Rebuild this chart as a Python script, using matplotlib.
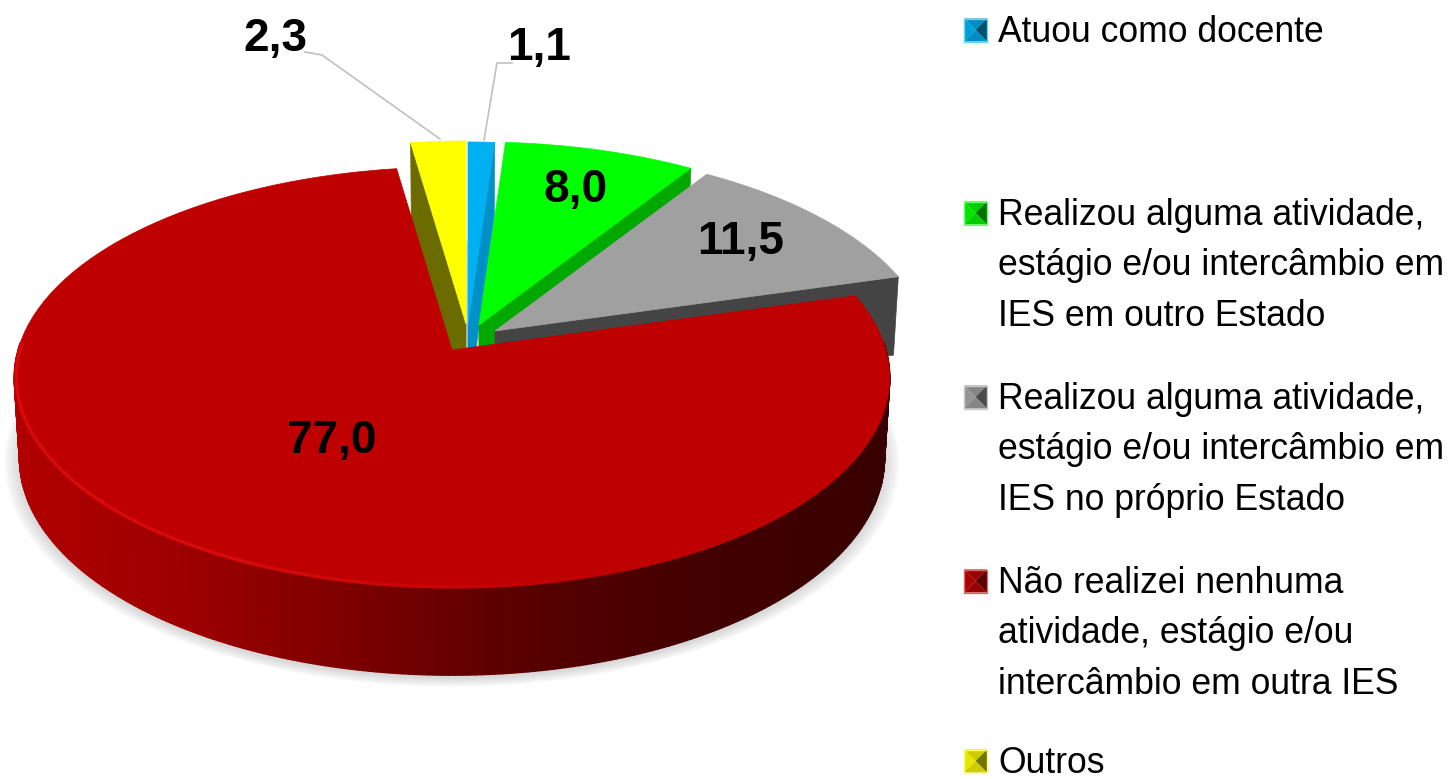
import numpy as np
import matplotlib
matplotlib.use("Agg")
import matplotlib.pyplot as plt
from matplotlib.patches import Polygon
from matplotlib.colors import LinearSegmentedColormap, to_rgb

values = [1.1, 8.0, 11.5, 77.0, 2.3]
value_labels = ["1,1", "8,0", "11,5", "77,0", "2,3"]
legend_labels = [
    "Atuou como docente",
    "Realizou alguma atividade,\nestágio e/ou intercâmbio em\nIES em outro Estado",
    "Realizou alguma atividade,\nestágio e/ou intercâmbio em\nIES no próprio Estado",
    "Não realizei nenhuma\natividade, estágio e/ou\nintercâmbio em outra IES",
    "Outros",
]

top_colors = ["#00b0f0", "#00ff00", "#a0a0a0", "#bf0000", "#ffff00"]
side_colors = ["#0090c8", "#00a800", "#444444", "#a00000", "#6b6b00"]
# apex of each slice, the small ones are pulled out of the pie
apex_x = [468, 479, 495, 452, 466]
apex_y = [325, 325, 331, 350, 324]
label_pos = [(539, 48), (576, 190), (741, 242), (332, 441), (275, 39)]
legend_y = [30, 213, 397, 581, 761]

R = 434.0
RY = 207.0
K = 0.131
DEPTH = 80.0

plt.rcParams['font.family'] = ['Liberation Sans', 'DejaVu Sans']
fig = plt.figure(figsize=(14.52, 7.79), dpi=100)
ax = fig.add_axes([0, 0, 1, 1])
ax.set_xlim(0, 1452)
ax.set_ylim(779, 0)
ax.axis('off')


def project(theta, ax0, ay0, r=1.0, down=0.0):
    # theta in degrees, clockwise from the top, tilted disc with some perspective
    t = np.radians(theta)
    u = r * np.sin(t)
    v = r * np.cos(t)
    s = 1.0 / (1.0 + K * v)
    x = ax0 + R * u * s * (1 - 0.012 * down)
    y = ay0 - RY * v * s + DEPTH * down * (1 + 0.58 * (s - 1))
    return np.column_stack([x, y])


def wedge_top(a0, a1, ax0, ay0):
    th = np.linspace(a0, a1, 120)
    return np.vstack([[[ax0, ay0]], project(th, ax0, ay0)])


angles = np.concatenate([[0], np.cumsum(values)]) / sum(values) * 360

# soft shadow under the pie
th = np.linspace(0, 360, 300)
base = project(th, apex_x[3], apex_y[3], down=1.0)
cen = np.array([458, 430])
for grow in np.linspace(1.035, 1.0, 12):
    pts = cen + (base - cen) * grow + np.array([0, 3])
    ax.add_patch(Polygon(pts, closed=True, fc='#a0a0a0', ec='none', alpha=0.035, zorder=1))

# small slices, back ones first
for i in [0, 1, 2, 4]:
    a0, a1 = angles[i], angles[i + 1]
    # the cut face that the viewer can see
    edge = a0 if i == 4 else a1
    p_rim = project(edge, apex_x[i], apex_y[i])[0]
    p_rim_d = project(edge, apex_x[i], apex_y[i], down=1.0)[0]
    p_apex = np.array([apex_x[i], apex_y[i]], dtype=float)
    ax.add_patch(Polygon([p_rim, p_apex, p_apex + [0, DEPTH], p_rim_d], closed=True,
                         fc=side_colors[i], ec=side_colors[i], lw=0.5, zorder=2 + i))
    ax.add_patch(Polygon(wedge_top(a0, a1, apex_x[i], apex_y[i]), closed=True,
                         fc=top_colors[i], ec=top_colors[i], lw=0.5, zorder=2 + i))

# big red slice: outer wall with horizontal gradient
wall = LinearSegmentedColormap.from_list(
    "wall", ["#b00000", "#9c0000", "#7a0000", "#560000", "#420000", "#380000"])
a0, a1 = angles[3], angles[4]
ths = np.linspace(88, 272, 240)
top = project(ths, apex_x[3], apex_y[3])
bot = project(ths, apex_x[3], apex_y[3], down=1.0)
for j in range(len(ths) - 1):
    c = wall((top[j, 0] - 15) / 875.0)
    ax.add_patch(Polygon([top[j], top[j + 1], bot[j + 1], bot[j]], closed=True,
                         fc=c, ec=c, lw=1.0, zorder=10))
ax.add_patch(Polygon(wedge_top(a0, a1, apex_x[3], apex_y[3]), closed=True,
                     fc=top_colors[3], ec=top_colors[3], lw=0.5, zorder=11))

# light bevel along the front edge, fading out towards the right
ths = np.linspace(160, 272, 160)
rim = project(ths, apex_x[3], apex_y[3], r=0.995)
for j in range(len(ths) - 1):
    a = min(1.0, (ths[j] - 160) / 45.0)
    ax.plot(rim[j:j + 2, 0], rim[j:j + 2, 1], color='#e01010', lw=2.5, alpha=a * 0.7,
            solid_capstyle='butt', zorder=12)

# leader lines of the two small labels
ax.plot([484, 497, 512], [140, 63, 63], color='#c0c0c0', lw=1.2, zorder=5)
ax.plot([440, 322, 305], [139, 55, 52], color='#c0c0c0', lw=1.2, zorder=5)

for txt, (x, y) in zip(value_labels, label_pos):
    ax.text(x, y, txt, ha='center', va='center', fontsize=33, fontweight='bold',
            color='black', zorder=20)


def shade(col, f):
    c = np.array(to_rgb(col))
    if f < 1:
        return tuple(c * f)
    return tuple(c + (1 - c) * (f - 1))


# legend: pyramid shaped keys and wrapped text
for i, (txt, y) in enumerate(zip(legend_labels, legend_y)):
    x0, x1 = 964, 987
    y0, y1 = y - 11.5, y + 11.5
    xc, yc = (x0 + x1) / 2, (y0 + y1) / 2
    col = top_colors[i] if i != 2 else '#a6a6a6'
    ax.add_patch(Polygon([(x0, y0), (x1, y0), (xc, yc)], fc=shade(col, 0.8), ec='none'))
    ax.add_patch(Polygon([(x0, y0), (x0, y1), (xc, yc)], fc=shade(col, 0.9), ec='none'))
    ax.add_patch(Polygon([(x1, y0), (x1, y1), (xc, yc)], fc=shade(col, 0.45), ec='none'))
    ax.add_patch(Polygon([(x0, y1), (x1, y1), (xc, yc)], fc=shade(col, 0.8), ec='none'))
    ax.add_patch(Polygon([(x0, y0), (x1, y0), (x1, y1), (x0, y1)], fc='none',
                         ec=shade(col, 1.4), lw=1))
    ax.text(998, y - 15, txt, ha='left', va='top', fontsize=25.6, color='black',
            linespacing=1.57)

fig.savefig("out.png", dpi=100)
